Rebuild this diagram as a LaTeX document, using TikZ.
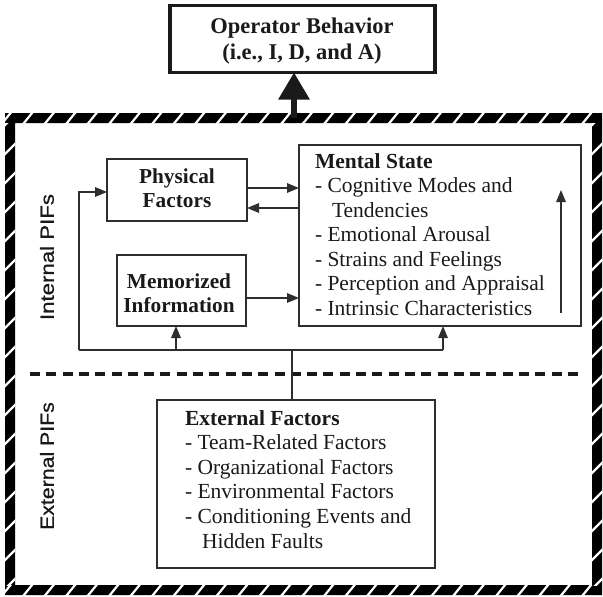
\documentclass[tikz,border=0pt]{standalone}
\usepackage{fontspec}
\setmainfont{Liberation Serif}
\newfontfamily\labelfont[FakeBold=0.9]{Liberation Sans}
\usepackage{graphicx}
\usetikzlibrary{arrows.meta}
\definecolor{ink}{HTML}{1A1A1A}
\definecolor{linec}{HTML}{2E2E2E}
\begin{document}
\begin{tikzpicture}[x=1pt,y=-1pt,
  box/.style={draw=linec, line width=1.3pt, inner sep=0pt, outer sep=0pt, anchor=north west},
  conn/.style={draw=linec, line width=1.5pt},
  arr/.style={conn, -{Triangle[length=12pt,width=9.5pt]}},
  txt/.style={inner sep=0pt, outer sep=0pt, text=ink},
  pif/.style={inner sep=0pt, text=ink, rotate=90, font=\labelfont\fontsize{19}{22}\selectfont},
  slash/.style={white, line width=2.2pt},
]
\useasboundingbox (0,0) rectangle (603,597);

% hatched outer frame
\fill[black, even odd rule] (5,113) rectangle (602,595) (15,123) rectangle (592,585);
\begin{scope}
  \clip (5,113) rectangle (602,123);
  \foreach \x in {0,21.5,...,620} { \draw[slash] (\x,126) -- (\x+13,110); }
\end{scope}
\begin{scope}
  \clip (5,585) rectangle (602,595);
  \foreach \x in {0,21.5,...,620} { \draw[slash] (\x,598) -- (\x+13,582); }
\end{scope}
\begin{scope}
  \clip (5,123) rectangle (15,585);
  \foreach \y in {120,149,...,610} { \draw[slash] (2,\y+8) -- (18,\y-8); }
\end{scope}
\begin{scope}
  \clip (592,123) rectangle (602,585);
  \foreach \y in {120,149,...,610} { \draw[slash] (589,\y+8) -- (605,\y-8); }
\end{scope}

% dashed separator
\coordinate (dl) at (30,374);
\coordinate (dr) at (584,374);
\draw[ink, line width=3.3pt, dash pattern=on 10pt off 6.3pt] (dl) -- (dr);

% boxes
\node[box, draw=ink, line width=3.3pt, minimum width=265pt, minimum height=67pt] (op) at (170,5.5) {};
\node[box, minimum width=140pt, minimum height=62pt] (phys) at (107,159) {};
\node[box, minimum width=129pt, minimum height=71pt] (mem) at (117,255) {};
\node[box, minimum width=282pt, minimum height=181pt] (ment) at (299,145) {};
\node[box, minimum width=278pt, minimum height=168pt] (ext) at (157,400) {};

% texts
\node[txt, anchor=base, font=\bfseries\fontsize{22.5}{27}\selectfont] (optxt) at (302,33)
  {\begin{tabular}[t]{@{}c@{}}Operator Behavior\\(i.e., I, D, and A)\end{tabular}};
\node[txt, anchor=base, font=\bfseries\fontsize{21.3}{24}\selectfont] (phystxt) at (177,183)
  {\begin{tabular}[t]{@{}c@{}}Physical\\Factors\end{tabular}};
\node[txt, anchor=base, font=\bfseries\fontsize{21.3}{24}\selectfont] (memtxt) at (179,288)
  {\begin{tabular}[t]{@{}c@{}}Memorized\\Information\end{tabular}};
\node[txt, anchor=base west, font=\fontsize{21.5}{24.5}\selectfont] (menttxt) at (315,168)
  {\begin{tabular}[t]{@{}l@{}}\textbf{Mental State}\\
  - Cognitive Modes and\\
  \hspace*{17pt}Tendencies\\
  - Emotional Arousal\\
  - Strains and Feelings\\
  - Perception and Appraisal\\
  - Intrinsic Characteristics\end{tabular}};
\node[txt, anchor=base west, font=\fontsize{21.5}{24.6}\selectfont] (exttxt) at (185,425)
  {\begin{tabular}[t]{@{}l@{}}\textbf{External Factors}\\
  - Team-Related Factors\\
  - Organizational Factors\\
  - Environmental Factors\\
  - Conditioning Events and\\
  \hspace*{17pt}Hidden Faults\end{tabular}};

\node[pif] (intpif) at (47,257) {\scalebox{1.17}[1]{Internal PIFs}};
\node[pif] (extpif) at (47,466) {\scalebox{1.12}[1]{External PIFs}};

% connectors
\coordinate (hub) at (292,350);
\coordinate (lc) at (79,350);
\coordinate (jm) at (176,350);
\coordinate (rc) at (443,350);
\draw[conn] (hub |- ext.north) -- (hub);
\draw[conn] (lc) -- (rc);
\draw[arr] (jm) -- (jm |- mem.south);
\draw[arr] (rc) -- (rc |- ment.south);
\draw[arr] (lc) |- ([yshift=-2pt]phys.west);
\draw[arr] ([yshift=2pt]phys.east) -- ([yshift=2pt]phys.east -| ment.west);
\draw[arr] ([yshift=-18pt]phys.east -| ment.west) -- ([yshift=-18pt]phys.east);
\draw[arr] ([yshift=-7.5pt]mem.east) -- ([yshift=-7.5pt]mem.east -| ment.west);
\coordinate (up1) at (561,313);
\coordinate (up2) at (561,190);
\draw[arr] (up1) -- (up2);

% big arrow to operator behavior
\coordinate (ftop) at (294,118);
\draw[ink, line width=6pt, -{Triangle[length=27pt,width=30pt]}] (ftop) -- (ftop |- op.south);
\end{tikzpicture}
\end{document}
